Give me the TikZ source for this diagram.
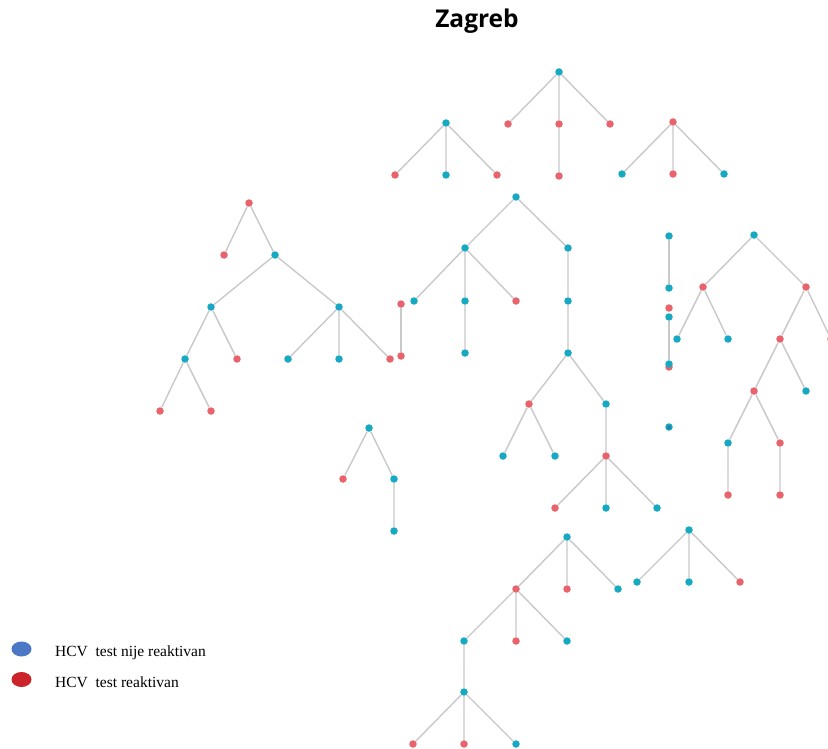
\documentclass[tikz,border=0pt]{standalone}
\usepackage{fontspec}
\setmainfont{Liberation Serif}
\newfontfamily\titlefont{Open Sans}
\definecolor{tealc}{HTML}{17A9C2}
\definecolor{redc}{HTML}{E8636B}
\definecolor{edgec}{HTML}{C9C9C9}
\definecolor{legblue}{HTML}{4A78C4}
\definecolor{legred}{HTML}{CC2229}
\definecolor{olblue}{HTML}{2E6E9E}
\tikzset{
  dot/.style={circle,inner sep=0pt,minimum size=7.5pt,draw=none},
  tn/.style={dot,fill=tealc},
  rn/.style={dot,fill=redc},
  edge/.style={draw=edgec,line width=1.4pt},
  legdot/.style={ellipse,inner sep=0pt,minimum width=20pt,minimum height=15pt},
  legtext/.style={anchor=west,font=\fontsize{15.5}{18}\selectfont,inner sep=0pt}
}
\usetikzlibrary{shapes.geometric}
\begin{document}
\begin{tikzpicture}[x=1pt,y=-1pt]
\useasboundingbox (0,0) rectangle (828,749);
\clip (0,0) rectangle (828,749);
\fill[white] (0,0) rectangle (828,749);
\node[font=\titlefont\bfseries\fontsize{24.5}{28}\selectfont] (title) at (477,21) {Zagreb};
% Tree A
\node[tn] (a0) at (559,72) {};
\node[rn] (a1) at (508,124) {};
\node[rn] (a2) at (559,124) {};
\node[rn] (a3) at (610,124) {};
\node[rn] (a4) at (559,176) {};
\draw[edge] (a0)--(a1) (a0)--(a2) (a0)--(a3) (a2)--(a4);
% Tree B
\node[tn] (b0) at (446,123) {};
\node[rn] (b1) at (395,175) {};
\node[tn] (b2) at (446,175) {};
\node[rn] (b3) at (497,175) {};
\draw[edge] (b0)--(b1) (b0)--(b2) (b0)--(b3);
% Tree C
\node[rn] (c0) at (673,122) {};
\node[tn] (c1) at (622,174) {};
\node[rn] (c2) at (673,174) {};
\node[tn] (c3) at (724,174) {};
\draw[edge] (c0)--(c1) (c0)--(c2) (c0)--(c3);
% Tree D
\node[rn] (d0) at (249,203) {};
\node[rn] (d1) at (224,255) {};
\node[tn] (d2) at (275,255) {};
\node[tn] (d3) at (211,307) {};
\node[tn] (d4) at (339,307) {};
\node[tn] (d5) at (185,359) {};
\node[rn] (d6) at (237,359) {};
\node[tn] (d7) at (288,359) {};
\node[tn] (d8) at (339,359) {};
\node[rn] (d9) at (390,359) {};
\node[rn] (d10) at (160,411) {};
\node[rn] (d11) at (211,411) {};
\draw[edge] (d0)--(d1) (d0)--(d2) (d2)--(d3) (d2)--(d4) (d3)--(d5) (d3)--(d6)
  (d4)--(d7) (d4)--(d8) (d4)--(d9) (d5)--(d10) (d5)--(d11);
% Pair
\node[rn] (p1) at (401,304) {};
\node[rn] (p2) at (401,356) {};
\draw[edge] (p1)--(p2);
% Tree E
\node[tn] (e0) at (516,197) {};
\node[tn] (e1) at (465,248) {};
\node[tn] (e2) at (568,248) {};
\node[tn] (e3) at (414,301) {};
\node[tn] (e4) at (465,301) {};
\node[rn] (e5) at (516,301) {};
\node[tn] (e6) at (568,301) {};
\node[tn] (e7) at (465,353) {};
\node[tn] (e8) at (568,353) {};
\node[rn] (e9) at (529,404) {};
\node[tn] (e10) at (606,404) {};
\node[tn] (e11) at (503,456) {};
\node[tn] (e12) at (555,456) {};
\node[rn] (e13) at (606,456) {};
\node[rn] (e14) at (555,508) {};
\node[tn] (e15) at (606,508) {};
\node[tn] (e16) at (657,508) {};
\draw[edge] (e0)--(e1) (e0)--(e2) (e1)--(e3) (e1)--(e4) (e1)--(e5) (e4)--(e7)
  (e2)--(e6) (e6)--(e8) (e8)--(e9) (e8)--(e10) (e9)--(e11) (e9)--(e12)
  (e10)--(e13) (e13)--(e14) (e13)--(e15) (e13)--(e16);
% Column
\node[tn] (k1) at (669,236) {};
\node[tn] (k2) at (669,288) {};
\node[rn] (k3) at (669,308) {};
\node[tn] (k4) at (669,317) {};
\node[rn] (k5r) at (669,367) {};
\node[tn] (k5) at (669,364) {};
\node[tn] (k6) at (669,427) {};
\node[dot,minimum size=4.5pt,fill=olblue,opacity=0.7] (k6b) at (669,427.5) {};
\draw[edge] (k1)--(k2) (k4)--(k5);
% Tree F
\node[tn] (f0) at (754,235) {};
\node[rn] (f1) at (703,287) {};
\node[rn] (f2) at (806,287) {};
\node[tn] (f3) at (677,339) {};
\node[tn] (f4) at (728,339) {};
\node[rn] (f5) at (780,339) {};
\node[rn] (f6) at (831,339) {};
\node[rn] (f7) at (754,391) {};
\node[tn] (f8) at (806,391) {};
\node[tn] (f9) at (728,443) {};
\node[rn] (f10) at (780,443) {};
\node[rn] (f11) at (728,495) {};
\node[rn] (f12) at (780,495) {};
\draw[edge] (f0)--(f1) (f0)--(f2) (f1)--(f3) (f1)--(f4) (f2)--(f5) (f2)--(f6)
  (f5)--(f7) (f5)--(f8) (f7)--(f9) (f7)--(f10) (f9)--(f11) (f10)--(f12);
% Tree G
\node[tn] (g0) at (369,428) {};
\node[rn] (g1) at (343,479) {};
\node[tn] (g2) at (394,479) {};
\node[tn] (g3) at (394,531) {};
\draw[edge] (g0)--(g1) (g0)--(g2) (g2)--(g3);
% Tree H
\node[tn] (h0) at (567,537) {};
\node[rn] (h1) at (516,589) {};
\node[rn] (h2) at (567,589) {};
\node[tn] (h3) at (618,589) {};
\node[tn] (h4) at (464,641) {};
\node[rn] (h5) at (516,641) {};
\node[tn] (h6) at (567,641) {};
\node[tn] (h7) at (464,692) {};
\node[rn] (h8) at (413,744) {};
\node[rn] (h9) at (464,744) {};
\node[tn] (h10) at (516,744) {};
\draw[edge] (h0)--(h1) (h0)--(h2) (h0)--(h3) (h1)--(h4) (h1)--(h5) (h1)--(h6)
  (h4)--(h7) (h7)--(h8) (h7)--(h9) (h7)--(h10);
% Tree I
\node[tn] (i0) at (689,530) {};
\node[tn] (i1) at (637,582) {};
\node[tn] (i2) at (689,582) {};
\node[rn] (i3) at (740,582) {};
\draw[edge] (i0)--(i1) (i0)--(i2) (i0)--(i3);
% Legend
\node[legdot,fill=legblue] (lb) at (21.5,649) {};
\node[legdot,fill=legred] (lr) at (21.5,679.5) {};
\node[legtext] (lbt) at (55,653) {HCV\ \ test nije\ reaktivan};
\node[legtext] (lrt) at (55,682) {HCV\ \ test reaktivan};
\end{tikzpicture}
\end{document}
